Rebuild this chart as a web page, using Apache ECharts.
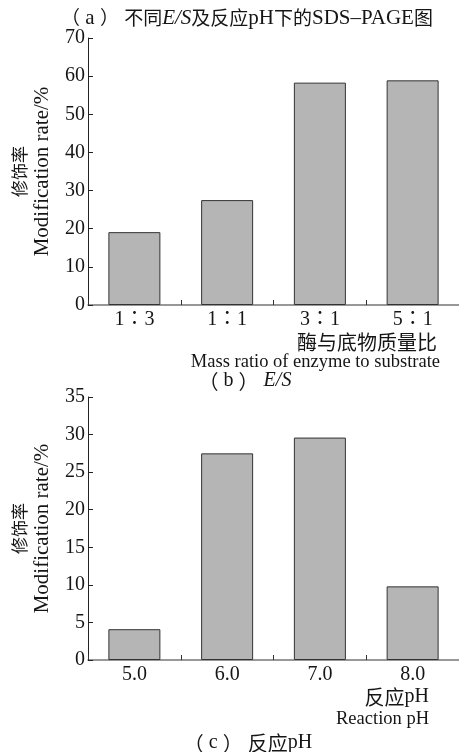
<!DOCTYPE html>
<html>
<head>
<meta charset="utf-8">
<script src="https://cdn.jsdelivr.net/npm/echarts@6/dist/echarts.min.js"></script>
<style>
  html, body { margin: 0; padding: 0; background: #fff; }
  #chart { width: 459px; height: 752px; }
</style>
</head>
<body>
<div id="chart"></div>
<script>
// Panel (b): modification rate vs. enzyme/substrate mass ratio
const ratioCategories = ['1∶3', '1∶1', '3∶1', '5∶1'];
const ratioValues = [19.1, 27.5, 58.3, 58.9];

// Panel (c): modification rate vs. reaction pH
const phCategories = ['5.0', '6.0', '7.0', '8.0'];
const phValues = [4.1, 27.5, 29.6, 9.8];

const SERIF = '"Liberation Serif", "Noto Sans CJK SC", serif';
const CJK = '"Noto Sans CJK SC", "Liberation Serif", sans-serif';
const INK = '#151515';

const chart = echarts.init(document.getElementById('chart'), null, { renderer: 'canvas' });

// rich-text styles: c = CJK, l = Latin, i = italic Latin
function richSet(cjkSize, latinSize, lineHeight) {
  const base = { fill: INK, color: INK };
  const lh = lineHeight ? { lineHeight: lineHeight } : {};
  return {
    c: Object.assign({ fontFamily: CJK, fontSize: cjkSize }, base, lh),
    l: Object.assign({ fontFamily: SERIF, fontSize: latinSize }, base, lh),
    i: Object.assign({ fontFamily: SERIF, fontSize: latinSize, fontStyle: 'italic' }, base, lh)
  };
}

function yAxisOf(gridIndex, max, interval) {
  return {
    type: 'value',
    gridIndex: gridIndex,
    min: 0,
    max: max,
    interval: interval,
    name: '{c|修饰率}\n{l|Modification rate/%}',
    nameLocation: 'middle',
    nameRotate: 90,
    nameGap: 34,
    nameTextStyle: { fontFamily: SERIF, fontSize: 20, color: INK, lineHeight: 23, rich: richSet(17, 21, 23) },
    axisLine: { show: true, lineStyle: { color: '#222', width: 1 } },
    axisTick: { show: true, inside: true, length: 5, lineStyle: { color: '#222' } },
    axisLabel: { fontFamily: SERIF, fontSize: 20, color: INK, margin: 3 },
    splitLine: { show: false }
  };
}

function xAxisOf(gridIndex, cats) {
  return {
    type: 'category',
    gridIndex: gridIndex,
    data: cats,
    boundaryGap: true,
    axisLine: { show: true, lineStyle: { color: '#777', width: 1.5 } },
    axisTick: { show: true, inside: true, length: 5, lineStyle: { color: '#333' } },
    axisLabel: { fontFamily: SERIF, fontSize: 20, color: INK, margin: 5 }
  };
}

const barStyle = { color: '#b5b5b5', borderColor: '#333', borderWidth: 1 };

function textEl(x, y, text, align, cjkSize, latinSize) {
  return {
    type: 'text',
    x: x,
    y: y,
    style: {
      text: text,
      align: align,
      verticalAlign: 'middle',
      fontFamily: SERIF,
      fontSize: latinSize,
      fill: INK,
      rich: richSet(cjkSize, latinSize)
    }
  };
}

chart.setOption({
  animation: false,
  backgroundColor: '#fff',
  grid: [
    { left: 87, top: 38, width: 376, height: 267 },
    { left: 87, top: 397, width: 376, height: 263 }
  ],
  xAxis: [xAxisOf(0, ratioCategories), xAxisOf(1, phCategories)],
  yAxis: [yAxisOf(0, 70, 10), yAxisOf(1, 35, 5)],
  series: [
    { type: 'bar', xAxisIndex: 0, yAxisIndex: 0, data: ratioValues, barWidth: 52, itemStyle: barStyle },
    { type: 'bar', xAxisIndex: 1, yAxisIndex: 1, data: phValues, barWidth: 52, itemStyle: barStyle }
  ],
  graphic: [
    textEl(247, 18, '{c|（}{l| a }{c|）}{l| }{c|不同}{i|E/S}{c|及反应}{l|pH}{c|下的}{l|SDS–PAGE}{c|图}', 'center', 19, 21),
    textEl(437, 342, '{c|酶与底物质量比}', 'right', 20, 20),
    textEl(440, 362, '{l|Mass ratio of enzyme to substrate}', 'right', 18, 18.5),
    textEl(245, 381, '{c|（}{l| b }{c|）}{l| }{i|E/S}', 'center', 20, 20),
    textEl(429, 697, '{c|反应}{l|pH}', 'right', 20, 20),
    textEl(429, 719, '{l|Reaction pH}', 'right', 18, 18.5),
    textEl(248, 743, '{c|（}{l| c }{c|）}{l| }{c|反应}{l|pH}', 'center', 20, 20)
  ]
});
</script>
</body>
</html>
